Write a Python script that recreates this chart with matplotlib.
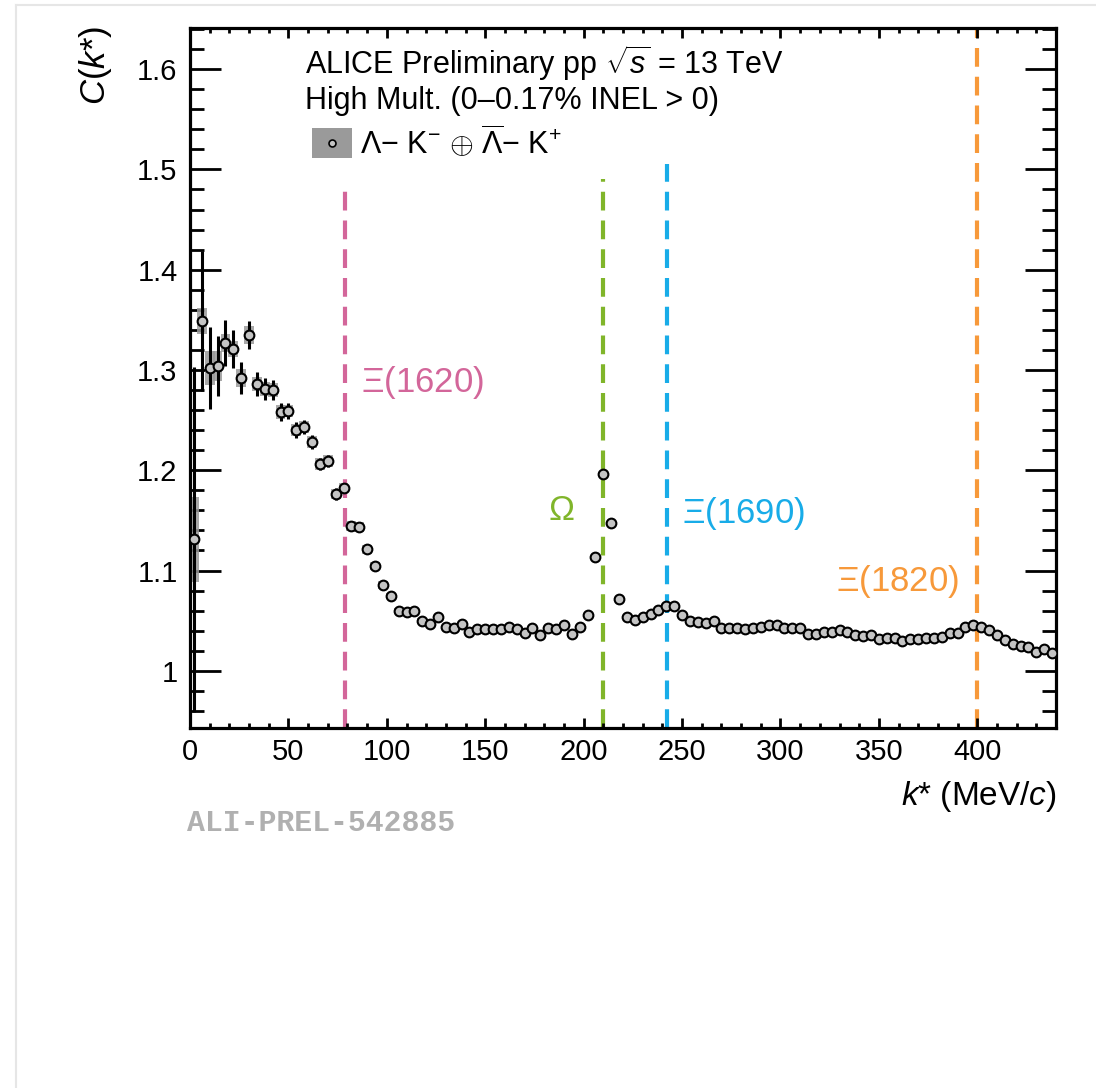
import numpy as np
import matplotlib
matplotlib.use("Agg")
import matplotlib.pyplot as plt
from matplotlib.patches import Rectangle
from matplotlib.lines import Line2D
from matplotlib.ticker import MultipleLocator, FuncFormatter

plt.rcParams['font.family'] = ['Liberation Sans', 'DejaVu Sans']
plt.rcParams['mathtext.fontset'] = 'custom'
plt.rcParams['mathtext.rm'] = 'Liberation Sans'
plt.rcParams['mathtext.it'] = 'Liberation Sans:italic'
plt.rcParams['mathtext.bf'] = 'Liberation Sans:bold'

# k* bin centres (MeV/c)
kstar = [2, 6, 10, 14, 18, 22, 26, 30, 34, 38, 42, 46, 50, 54, 58, 62, 66, 70, 74, 78,
         82, 86, 90, 94, 98, 102, 106, 110, 114, 118, 122, 126, 130, 134, 138, 142, 146, 150, 154, 158,
         162, 166, 170, 174, 178, 182, 186, 190, 194, 198, 202, 206, 210, 214, 218, 222, 226, 230, 234, 238,
         242, 246, 250, 254, 258, 262, 266, 270, 274, 278, 282, 286, 290, 294, 298, 302, 306, 310, 314, 318,
         322, 326, 330, 334, 338, 342, 346, 350, 354, 358, 362, 366, 370, 374, 378, 382, 386, 390, 394, 398,
         402, 406, 410, 414, 418, 422, 426, 430, 434, 438]

# correlation function C(k*)
ck = [1.131, 1.349, 1.302, 1.304, 1.327, 1.321, 1.292, 1.335, 1.286, 1.281,
      1.280, 1.258, 1.259, 1.240, 1.243, 1.228, 1.206, 1.209, 1.176, 1.182,
      1.144, 1.143, 1.121, 1.105, 1.086, 1.075, 1.060, 1.059, 1.060, 1.050,
      1.047, 1.054, 1.044, 1.043, 1.047, 1.039, 1.042, 1.042, 1.042, 1.042,
      1.044, 1.042, 1.038, 1.043, 1.036, 1.043, 1.042, 1.046, 1.037, 1.044,
      1.056, 1.114, 1.196, 1.147, 1.072, 1.054, 1.051, 1.054, 1.057, 1.061,
      1.065, 1.065, 1.056, 1.050, 1.049, 1.048, 1.050, 1.043, 1.043, 1.043,
      1.042, 1.043, 1.044, 1.046, 1.046, 1.043, 1.043, 1.043, 1.037, 1.037,
      1.039, 1.039, 1.041, 1.039, 1.036, 1.035, 1.036, 1.032, 1.033, 1.033,
      1.030, 1.032, 1.032, 1.033, 1.033, 1.034, 1.038, 1.038, 1.044, 1.046,
      1.044, 1.041, 1.036, 1.031, 1.027, 1.025, 1.024, 1.019, 1.022, 1.018]

# statistical errors
stat = [0.172, 0.070, 0.041, 0.030, 0.023, 0.019, 0.016, 0.014, 0.012, 0.011,
        0.010, 0.009, 0.008, 0.008, 0.007, 0.007, 0.006, 0.006, 0.006, 0.005,
        0.005, 0.005, 0.004, 0.004, 0.004, 0.004, 0.003, 0.003, 0.003, 0.003] + [0.002] * 80

# systematic errors
syst = [0.042, 0.013, 0.017, 0.015, 0.009, 0.008, 0.009, 0.009, 0.007, 0.007,
        0.007, 0.007, 0.006, 0.006, 0.006, 0.006, 0.006, 0.006, 0.005, 0.005,
        0.005, 0.005, 0.004, 0.004, 0.004, 0.003, 0.003, 0.003, 0.003, 0.003] + [0.002] * 80

# resonance lines
res_names = [r"$\Xi$(1620)", r"$\Omega$", r"$\Xi$(1690)", r"$\Xi$(1820)"]
res_k = [79, 210, 242.5, 400]
res_top = [1.485, 1.49, 1.505, 1.641]
res_colors = ["#d3669a", "#80b52a", "#18ace8", "#f7993a"]
label_pos = [(87, 1.288), (182, 1.160), (250, 1.157), (328, 1.089)]

fig = plt.figure(figsize=(10.96, 10.88), dpi=100)
ax = fig.add_axes([190/1096, 1 - 728/1088, 866/1096, 700/1088])
ax.set_xlim(0, 440)
ax.set_ylim(0.943, 1.641)

# faint outer frame of the page
fig.add_artist(Line2D([16/1096, 16/1096], [0, 1 - 5/1088], color="#e6e6e6", lw=1.5))
fig.add_artist(Line2D([16/1096, 1], [1 - 5/1088, 1 - 5/1088], color="#e6e6e6", lw=1.5))

# vertical dashed lines
for x, top, c in zip(res_k, res_top, res_colors):
    ax.vlines(x, 0.943, top, colors=c, linestyles=(0, (4.5, 2.4)), lw=3, zorder=1)
for name, (lx, ly), c in zip(res_names, label_pos, res_colors):
    ax.text(lx, ly, name, color=c, fontsize=25, va="center", ha="left")

# systematic boxes
kk = np.array(kstar)
cc = np.array(ck)
ss = np.array(syst)
for x, y, s in zip(kk, cc, ss):
    ax.add_patch(Rectangle((x - 2.5, y - s), 5.0, 2 * s, facecolor="#9a9a9a",
                           edgecolor="none", alpha=0.85, zorder=2))

ax.errorbar(kk, cc, yerr=stat, fmt="o", color="black", ecolor="black", elinewidth=2.2,
            capsize=0, markersize=7, markerfacecolor="#c4c4c4", markeredgewidth=1.5, zorder=3)

# axes style
for sp in ax.spines.values():
    sp.set_linewidth(2.3)
ax.xaxis.set_major_locator(MultipleLocator(50))
ax.xaxis.set_minor_locator(MultipleLocator(10))
ax.yaxis.set_major_locator(MultipleLocator(0.1))
ax.yaxis.set_minor_locator(MultipleLocator(0.02))
ax.yaxis.set_major_formatter(FuncFormatter(lambda v, p: "%g" % round(v, 2)))
ax.tick_params(axis="x", which="major", direction="in", length=7.5, width=2, top=True,
               labelsize=21, pad=7)
ax.tick_params(axis="x", which="minor", direction="in", length=3.8, width=2, top=True)
ax.tick_params(axis="y", which="major", direction="in", length=22, width=2, right=True,
               labelsize=21, pad=9)
ax.tick_params(axis="y", which="minor", direction="in", length=10, width=2, right=True)

# axis titles
fig.text(95/1096, 1 - 65/1088, r"$C(k$*$)$", rotation=90, fontsize=25, ha="center", va="center")
fig.text(1057/1096, 1 - 797/1088, r"$k$* (MeV/$c$)", fontsize=24, ha="right", va="center")

# header text
ax.text(0.1328, 0.95, r"ALICE Preliminary pp $\sqrt{s}$ = 13 TeV", transform=ax.transAxes,
        fontsize=22, va="center", ha="left")
ax.text(0.1328, 0.8957, "High Mult. (0\u20130.17% INEL > 0)", transform=ax.transAxes,
        fontsize=22, va="center", ha="left")

# legend entry
ax.add_patch(Rectangle((0.1409, 0.814), 0.0462, 0.043, transform=ax.transAxes,
                       facecolor="#9a9a9a", edgecolor="none"))
ax.plot([0.164], [0.836], "o", transform=ax.transAxes, markersize=5,
        markerfacecolor="#c4c4c4", markeredgecolor="black", markeredgewidth=1.2)
ax.text(0.196, 0.836, r"$\Lambda$$-$ K$^{-}$ $\oplus$ $\overline{\Lambda}$$-$ K$^{+}$",
        transform=ax.transAxes, fontsize=22, va="center", ha="left")

fig.text(187/1096, 1 - 823/1088, "ALI-PREL-542885", family="Liberation Mono",
         fontweight="bold", color="#b0b0b0", fontsize=21.5, ha="left", va="center")

fig.savefig("out.png", dpi=100)
